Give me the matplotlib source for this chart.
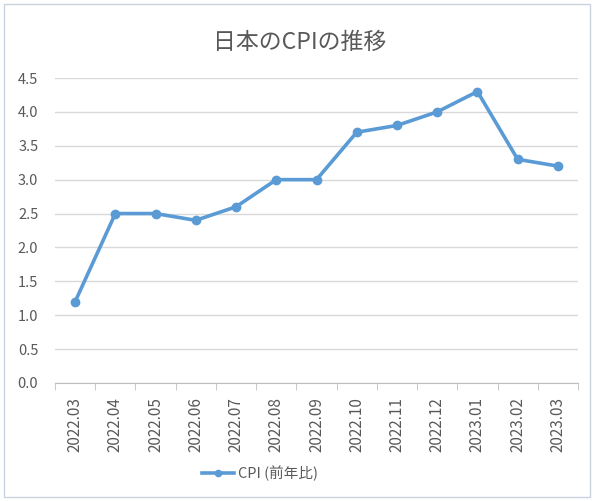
import matplotlib
matplotlib.use("Agg")
import matplotlib.pyplot as plt
from matplotlib.patches import Rectangle
import numpy as np

plt.rcParams['font.family'] = ['Noto Sans CJK JP', 'DejaVu Sans']

months = ["2022.03", "2022.04", "2022.05", "2022.06", "2022.07", "2022.08", "2022.09",
          "2022.10", "2022.11", "2022.12", "2023.01", "2023.02", "2023.03"]
cpi = [1.2, 2.5, 2.5, 2.4, 2.6, 3.0, 3.0, 3.7, 3.8, 4.0, 4.3, 3.3, 3.2]
yticks = [0.0, 0.5, 1.0, 1.5, 2.0, 2.5, 3.0, 3.5, 4.0, 4.5]
title = "日本のCPIの推移"
series_name = "CPI (前年比)"

W, H = 600, 501
fig = plt.figure(figsize=(W / 100, H / 100), dpi=100)
fig.patch.set_facecolor("white")

# chart border
fig.patches.append(Rectangle((4 / W, 1 - 497 / H), (590 - 4) / W, (497 - 4) / H,
                             transform=fig.transFigure, fill=False,
                             edgecolor="#C9D3DF", linewidth=1.0))

ax = fig.add_axes([55 / W, 1 - 383 / H, (578 - 55) / W, (383 - 78) / H])
x = np.arange(len(months))
ax.plot(x, cpi, color="#5B9BD5", linewidth=2.6, marker="o", markersize=6,
        markerfacecolor="#5B9BD5", markeredgecolor="#5B9BD5", label=series_name,
        solid_joinstyle="round", zorder=3)

ax.set_xlim(-0.5, len(months) - 0.5)
ax.set_ylim(0, 4.5)
ax.set_yticks(yticks)
ax.set_yticklabels([f"{v:.1f}" for v in yticks], fontsize=10.5, color="#595959")
ax.yaxis.grid(True, color="#D9D9D9", linewidth=1)
ax.set_axisbelow(True)

ax.set_xticks(x)
ax.set_xticklabels(months, rotation=90, fontsize=11, color="#595959")
ax.set_xticks(np.arange(len(months) + 1) - 0.5, minor=True)
ax.tick_params(axis="x", which="major", length=0, pad=10)
ax.tick_params(axis="x", which="minor", length=5, color="#BFBFBF")
ax.tick_params(axis="y", length=0, pad=12)

for s in ["top", "right", "left"]:
    ax.spines[s].set_visible(False)
ax.spines["bottom"].set_color("#BFBFBF")

fig.text(300 / W, 1 - 42 / H, title, ha="center", va="center",
         fontsize=16.5, color="#595959")

leg = fig.legend(loc="center", bbox_to_anchor=(260 / W, 1 - 473 / H), frameon=False,
                 fontsize=10.5, labelcolor="#595959", handlelength=2.2,
                 handletextpad=0.3, markerscale=0.75)

fig.savefig("out.png", dpi=100, facecolor="white")
